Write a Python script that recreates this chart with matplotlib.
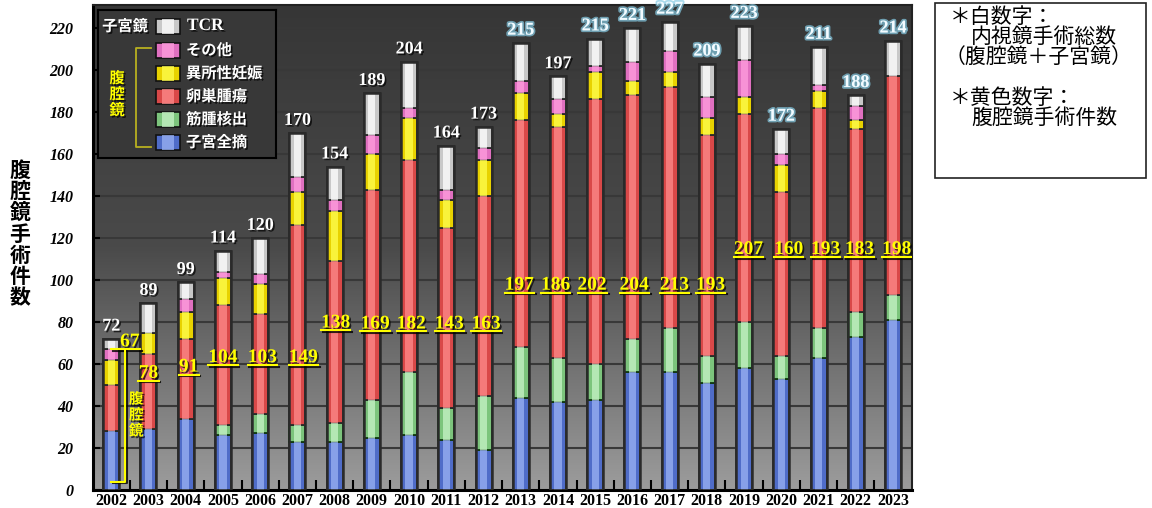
import numpy as np
import matplotlib
matplotlib.use('Agg')
from matplotlib import pyplot as plt
from matplotlib import patheffects as pe
from matplotlib.colors import LinearSegmentedColormap
from matplotlib.patches import Rectangle

########
# DATA #
########

years = [str(y) for y in range(2002, 2024)]

# stacked segments, bottom to top
hysterectomy = [28, 29, 34, 26, 27, 23, 23, 25, 26, 24, 19, 44, 42, 43, 56, 56, 51, 58, 53, 63, 73, 81]
myomectomy   = [0, 0, 0, 5, 9, 8, 9, 18, 30, 15, 26, 24, 21, 17, 16, 21, 13, 22, 11, 14, 12, 12]
ovarian      = [22, 36, 38, 57, 48, 95, 77, 100, 101, 86, 95, 108, 110, 126, 116, 115, 105, 99, 78, 105, 87, 104]
ectopic      = [12, 10, 13, 13, 14, 16, 24, 17, 20, 13, 17, 13, 6, 13, 7, 7, 8, 8, 13, 8, 4, 0]
other        = [5, 0, 6, 3, 5, 7, 5, 9, 5, 5, 6, 6, 7, 3, 9, 10, 10, 18, 5, 3, 7, 0]
tcr          = [5, 14, 8, 10, 17, 21, 16, 20, 22, 21, 10, 18, 11, 13, 16, 14, 16, 16, 12, 18, 5, 17]

# printed numbers
total_labels = [72, 89, 99, 114, 120, 170, 154, 189, 204, 164, 173, 215, 197, 215, 221, 227, 209, 223, 172, 211, 188, 214]
lap_labels   = [67, 78, 91, 104, 103, 149, 138, 169, 182, 143, 163, 197, 186, 202, 204, 213, 193, 207, 160, 193, 183, 198]

seg_names = ['子宮全摘', '筋腫核出', '卵巣腫瘍', '異所性妊娠', 'その他', 'TCR']

##########
# LAYOUT #
##########

# underline heights / x shifts of the yellow numbers (hand placed in original)
lap_ul = [67, 52, 55, 59.5, 59.5, 59.5, 76, 75.5, 75.5, 75.5, 75.5,
          94, 94, 94, 94, 94, 94, 111, 111, 111, 111, 111]
lap_dx = [0.5, 0.0, 0.08, 0.0, 0.06, 0.16, 0.03, 0.09, 0.06, 0.08, 0.07,
          -0.04, -0.06, -0.08, 0.05, 0.13, 0.1, 0.12, 0.2, 0.19, 0.1, 0.1]

base_cols  = ['#4f6cc8', '#7cc47c', '#d94848', '#e8d200', '#e070c0', '#c8c8c8']
light_cols = ['#9ab2f4', '#c8f4c8', '#ff8c8c', '#ffff50', '#ff9ede', '#ffffff']
edge_cols  = ['#2a2a2a', '#103a10', '#2a2a2a', '#2a2a2a', '#2a2a2a', '#2a2a2a']

SERIF = ['Liberation Serif', 'DejaVu Serif']
JP = ['Noto Sans CJK JP', 'DejaVu Sans']

W, H = 1152, 508
fig = plt.figure(figsize=(W / 100, H / 100), dpi=100)
ax = fig.add_axes([93 / W, 1 - 490 / H, (912 - 93) / W, (490 - 5) / H])

n = len(years)
x = np.arange(n)
xmin, xmax, ymax = -0.49, n - 0.49, 231

# gradient background
cmap = LinearSegmentedColormap.from_list('bg', ['#363636', '#4a4a4a', '#9c9c9c'])
ax.imshow(np.linspace(0, 1, 256).reshape(-1, 1), extent=[xmin, xmax, 0, ymax],
          aspect='auto', cmap=cmap, zorder=0)
for v in range(20, 240, 20):
    ax.axhline(v, color='#383838', lw=1.5, zorder=1)

# stacked bars with a lighter stripe for the cylinder look
bw = 0.43
segs = [hysterectomy, myomectomy, ovarian, ectopic, other, tcr]
bottom = np.zeros(n)
for k, seg in enumerate(segs):
    seg = np.array(seg, dtype=float)
    ax.bar(x, seg, bottom=bottom, width=bw, color=base_cols[k],
           edgecolor=edge_cols[k], lw=1.3, zorder=3)
    ax.bar(x, seg, bottom=bottom, width=bw * 0.45, color=light_cols[k],
           lw=0, alpha=0.75, zorder=4)
    bottom = bottom + seg
ax.bar(x, bottom, width=bw, color='none', edgecolor='#2a2a2a', lw=1.8, zorder=5)

shadow = [pe.withSimplePatchShadow(offset=(1.2, -1.2), shadow_rgbFace='k', alpha=0.7)]
line_shadow = [pe.SimpleLineShadow(offset=(1.2, -1.2), shadow_color='k', alpha=0.8),
               pe.Normal()]
glow = [pe.withStroke(linewidth=2.5, foreground='#86cbe4', alpha=0.7)]

# totals
for i in range(n):
    if i == 11 or i >= 13:
        ax.text(x[i], bottom[i] + 2, str(total_labels[i]), ha='center', va='bottom',
                color='#f4fbff', family=SERIF, weight='bold', fontsize=13,
                path_effects=glow, zorder=8)
    else:
        ax.text(x[i], bottom[i] + 2, str(total_labels[i]), ha='center', va='bottom',
                color='white', family=SERIF, weight='bold', fontsize=13,
                path_effects=shadow, zorder=8)

# laparoscopy counts, underlined
for i in range(n):
    s = str(lap_labels[i])
    cx = x[i] + lap_dx[i]
    ax.text(cx, lap_ul[i] + 1.4, s, ha='center', va='baseline', color='#ffff00',
            family=SERIF, weight='bold', fontsize=14, path_effects=shadow, zorder=9)
    hw = 0.125 * len(s) + 0.02
    ax.plot([cx - hw, cx + hw], [lap_ul[i], lap_ul[i]], color='#ffff00', lw=1.5,
            path_effects=line_shadow, zorder=9)

# bracket for 2002
ax.plot([0.0, 0.376, 0.376, 0.0], [67, 67, 4, 4], color='#ffff00', lw=1.5,
        path_effects=line_shadow, zorder=9)
ax.text(0.67, 36, '腹\n腔\n鏡', ha='center', va='center', color='#ffff00',
        family=JP, weight='bold', fontsize=10.5, linespacing=1.0,
        path_effects=shadow, zorder=9)

ax.set_xlim(xmin, xmax)
ax.set_ylim(0, ymax)
ax.set_yticks(range(0, 221, 20))
ax.set_yticklabels([str(v) for v in range(0, 221, 20)], family=SERIF,
                   weight='bold', style='italic', fontsize=11.5)
ax.set_xticks(x)
ax.set_xticklabels(years, family=SERIF, weight='bold', fontsize=11.5)
ax.set_xticks(x[:-1] + 0.5, minor=True)
ax.tick_params(axis='x', which='major', length=0, pad=2)
ax.tick_params(axis='x', which='minor', direction='in', length=7, width=1.5, color='k')
ax.tick_params(axis='y', direction='in', length=5, width=1.5, color='k', pad=14)
for s in ['left', 'bottom']:
    ax.spines[s].set_linewidth(2.2)
    ax.spines[s].set_color('k')
for s in ['top', 'right']:
    ax.spines[s].set_linewidth(1.5)
    ax.spines[s].set_color('#222222')

fig.text(20 / W, 1 - 234 / H, '\n'.join('腹腔鏡手術件数'), ha='center', va='center',
         family=JP, weight='bold', fontsize=15, linespacing=1.02)

##########
# LEGEND #
##########

axl = fig.add_axes([98 / W, 1 - 158 / H, (276 - 98) / W, (158 - 10) / H])
axl.set_xlim(98, 276)
axl.set_ylim(158, 10)
axl.set_facecolor('#383838')
axl.set_xticks([])
axl.set_yticks([])
for s in axl.spines.values():
    s.set_linewidth(1.5)
    s.set_color('k')

row_y = [142, 119, 96, 73, 50, 26]
for k in range(6):
    axl.add_patch(Rectangle((156, row_y[k] - 7), 24, 15, facecolor=base_cols[k],
                            edgecolor='#111111', lw=1.2))
    axl.add_patch(Rectangle((162, row_y[k] - 7), 12, 15, facecolor=light_cols[k],
                            lw=0, alpha=0.75))
    if k == 5:
        axl.text(187, row_y[k], 'TCR', ha='left', va='center', color='white',
                 family=SERIF, weight='bold', fontsize=12.5, path_effects=shadow)
    else:
        axl.text(186, row_y[k], seg_names[k], ha='left', va='center', color='white',
                 family=JP, weight='bold', fontsize=11, path_effects=shadow)
axl.text(125, 26, '子宮鏡', ha='center', va='center', color='white',
         family=JP, weight='bold', fontsize=11, path_effects=shadow)
axl.plot([151, 136, 136, 151], [48, 48, 147, 147], color='#b8b020', lw=1.3)
axl.text(117, 94, '腹\n腔\n鏡', ha='center', va='center', color='#ffff00',
         family=JP, weight='bold', fontsize=11, linespacing=1.0, path_effects=shadow)

#############
# NOTE BOX  #
#############

fig.patches.append(Rectangle((935 / W, 1 - 178 / H), (1146 - 935) / W, (178 - 3) / H,
                             transform=fig.transFigure, facecolor='white',
                             edgecolor='#222222', lw=1.2))
notes = [(950, 17, '＊白数字：'), (971, 37, '内視鏡手術総数'),
         (945, 57, '（腹腔鏡＋子宮鏡）'), (950, 98, '＊黄色数字：'),
         (971, 118, '腹腔鏡手術件数')]
for px, py, s in notes:
    fig.text(px / W, 1 - py / H, s, ha='left', va='center', family=JP,
             fontsize=15, color='k')

plt.savefig('out.png', dpi=100)
plt.close()
